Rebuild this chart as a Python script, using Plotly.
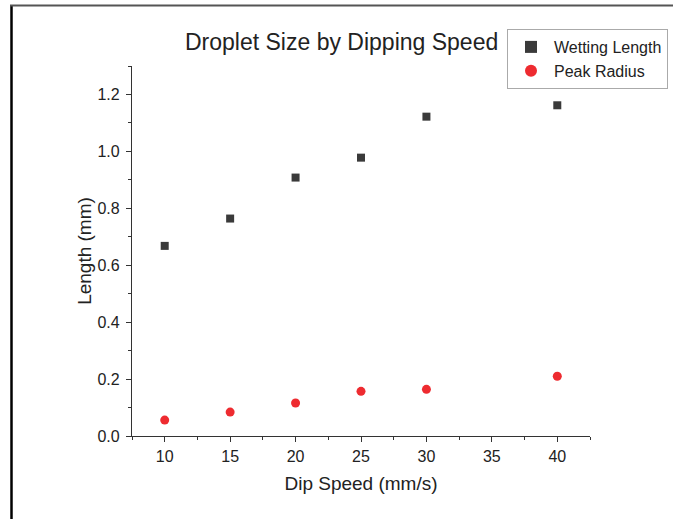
import plotly.graph_objects as go

# Dip speed (mm/s) and measured lengths (mm)
dip_speed = [10, 15, 20, 25, 30, 40]
wetting_length = [0.668, 0.764, 0.908, 0.978, 1.122, 1.162]
peak_radius = [0.056, 0.084, 0.116, 0.157, 0.164, 0.210]

FONT = "Liberation Sans, Arial, sans-serif"
W, H = 673, 519
ML, MR, MT, MB = 132, 83, 66, 83
PW, PH = W - ML - MR, H - MT - MB


def px_to_paper_x(px):
    return (px - ML) / PW


def px_to_paper_y(py):
    return 1 + (MT - py) / PH


fig = go.Figure()
fig.add_trace(go.Scatter(
    x=dip_speed, y=wetting_length, mode="markers", name="Wetting Length",
    marker=dict(symbol="square", size=8, color="#3a3a3a"),
))
fig.add_trace(go.Scatter(
    x=dip_speed, y=peak_radius, mode="markers", name="Peak Radius",
    marker=dict(symbol="circle", size=9, color="#ee2b30"),
))

axis_common = dict(
    showgrid=False, zeroline=False, showline=True, linecolor="#333333", linewidth=1.2,
    ticks="outside", ticklen=5, tickwidth=1.2, tickcolor="#333333",
    tickfont=dict(family=FONT, size=16, color="#222222"),
    title_font=dict(family=FONT, size=19, color="#222222"),
)

fig.update_xaxes(
    range=[7.5, 42.5], tick0=10, dtick=5,
    minor=dict(dtick=2.5, tick0=0, ticks="outside", ticklen=3, tickcolor="#333333"),
    title_text="Dip Speed (mm/s)", title_standoff=12, ticklabelstandoff=1, **axis_common,
)
fig.update_yaxes(
    range=[0, 1.3], tick0=0, dtick=0.2, tickformat=".1f",
    minor=dict(dtick=0.1, tick0=0, ticks="outside", ticklen=3, tickcolor="#333333"),
    title_text="Length (mm)", title_standoff=0, ticklabelstandoff=3, **axis_common,
)

fig.update_layout(
    width=W, height=H,
    margin=dict(l=ML, r=MR, t=MT, b=MB, autoexpand=False),
    paper_bgcolor="white", plot_bgcolor="white",
    showlegend=True,
    legend=dict(
        x=px_to_paper_x(507), y=px_to_paper_y(29), xanchor="left", yanchor="top",
        bordercolor="#aaaaaa", borderwidth=1, bgcolor="white",
        font=dict(family=FONT, size=16, color="#222222"),
        tracegroupgap=0, itemsizing="constant", itemwidth=36,
    ),
    annotations=[dict(
        text="Droplet Size by Dipping Speed", xref="paper", yref="paper",
        x=px_to_paper_x(341), y=px_to_paper_y(42), xanchor="center", yanchor="middle",
        showarrow=False, font=dict(family=FONT, size=23, color="#222222"),
    )],
    shapes=[
        dict(type="line", xref="paper", yref="paper",
             x0=px_to_paper_x(11.5), x1=px_to_paper_x(11.5),
             y0=px_to_paper_y(5), y1=px_to_paper_y(520),
             line=dict(color="black", width=2.5)),
        dict(type="line", xref="paper", yref="paper",
             x0=px_to_paper_x(10), x1=px_to_paper_x(675),
             y0=px_to_paper_y(5.5), y1=px_to_paper_y(5.5),
             line=dict(color="#555555", width=2)),
    ],
)

fig.write_html("out.html")
